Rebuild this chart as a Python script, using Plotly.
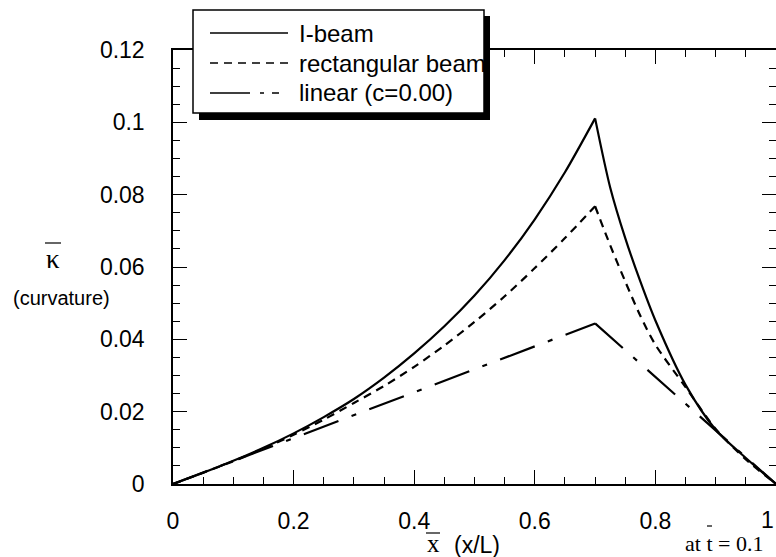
import plotly.graph_objects as go

# ---- data ----
x_ibeam = [0, 0.05, 0.1, 0.15, 0.2, 0.25, 0.3, 0.35, 0.4, 0.45, 0.5, 0.55, 0.6, 0.65, 0.7,
           0.725, 0.75, 0.775, 0.8, 0.85, 0.9, 0.95, 1.0]
y_ibeam = [0, 0.0031, 0.0064, 0.0100, 0.0140, 0.0185, 0.0235, 0.0294, 0.0361, 0.0436, 0.0521,
           0.0619, 0.0732, 0.0862, 0.1011, 0.0820, 0.0680, 0.0560, 0.0452, 0.0274, 0.0150,
           0.0072, 0]

x_rect = [0, 0.05, 0.1, 0.15, 0.2, 0.25, 0.3, 0.35, 0.4, 0.45, 0.5, 0.55, 0.6, 0.65, 0.7,
          0.725, 0.75, 0.775, 0.8, 0.85, 0.9, 0.95, 1.0]
y_rect = [0, 0.0031, 0.0063, 0.0098, 0.0136, 0.0178, 0.0224, 0.0271, 0.0324, 0.0383, 0.0448,
          0.0519, 0.0597, 0.0680, 0.0768, 0.0660, 0.0560, 0.0465, 0.0385, 0.0268, 0.0152,
          0.0068, 0]

x_linear = [0, 0.7, 1.0]
y_linear = [0, 0.0444, 0]

series_names = ["I-beam", "rectangular beam", "linear (c=0.00)"]
x_ticks = [0, 0.2, 0.4, 0.6, 0.8, 1]
y_ticks = [0, 0.02, 0.04, 0.06, 0.08, 0.1, 0.12]

# ---- layout geometry ----
W, H = 776, 557
ML, MR, MT, MB = 173, 0, 50, 73
PW, PH = W - ML - MR, H - MT - MB


def px(xp):
    return (xp - ML) / PW


def py(yp):
    return (H - MB - yp) / PH


SANS = "Liberation Sans, Arial, Helvetica, sans-serif"
SERIF = "Liberation Serif, Times New Roman, serif"

dash_styles = ["solid", "8px,6px", "37px,14px,5px,14px"]
legend_dash = ["solid", "8px,6px", "40px,10px,4px,8px,7px"]
curve_shape = ["spline", "spline", "linear"]

fig = go.Figure()
for xs, ys, name, dash, shp in zip([x_ibeam, x_rect, x_linear], [y_ibeam, y_rect, y_linear],
                                   series_names, dash_styles, curve_shape):
    k = ys.index(max(ys))  # split at the cusp so each branch is smoothed separately
    for seg in (slice(0, k + 1), slice(k, None)):
        fig.add_trace(go.Scatter(x=xs[seg], y=ys[seg], mode="lines", name=name,
                                 showlegend=False,
                                 line=dict(color="black", width=2.2, dash=dash,
                                           shape=shp, smoothing=0.8)))

axis_common = dict(
    showline=True, linecolor="black", linewidth=1.5, mirror="allticks",
    ticks="inside", tickcolor="black", tickwidth=1.3, ticklen=14,
    showgrid=False, zeroline=False,
    tickfont=dict(family=SANS, size=23, color="black"),
)

fig.update_xaxes(range=[0, 1], tickvals=x_ticks[:-1], ticktext=[f"{v:g}" for v in x_ticks[:-1]],
                 minor=dict(dtick=0.05, tick0=0, ticks="inside", ticklen=7,
                            tickcolor="black", tickwidth=1.2),
                 ticklabelstandoff=16, **axis_common)
fig.update_yaxes(range=[0, 0.12], tickvals=y_ticks, ticktext=[f"{v:g}" for v in y_ticks],
                 minor=dict(dtick=0.005, tick0=0, ticks="inside", ticklen=7,
                            tickcolor="black", tickwidth=1.2),
                 ticklabelstandoff=22, **axis_common)

shapes = []
annotations = []

# legend box with shadow (paper coords from pixels)
bx0, by0, bx1, by1 = 193, 10, 484, 113
shapes.append(dict(type="rect", xref="paper", yref="paper", layer="above",
                   x0=px(bx0 + 6), x1=px(bx1 + 6), y0=py(by1 + 7), y1=py(by0 + 6),
                   fillcolor="black", line=dict(width=0)))
shapes.append(dict(type="rect", xref="paper", yref="paper", layer="above",
                   x0=px(bx0), x1=px(bx1), y0=py(by1), y1=py(by0),
                   fillcolor="white", line=dict(color="black", width=1.5)))
rows = [33, 63, 93]
for name, dash, yr in zip(series_names, legend_dash, rows):
    shapes.append(dict(type="line", xref="paper", yref="paper", layer="above",
                       x0=px(210), x1=px(288), y0=py(yr), y1=py(yr),
                       line=dict(color="black", width=1.6, dash=dash)))
    annotations.append(dict(xref="paper", yref="paper", x=px(297), y=py(yr),
                            xanchor="left", yanchor="middle", showarrow=False,
                            text=name, font=dict(family=SANS, size=24, color="black")))

# y-axis title: kappa with overbar and "(curvature)"
annotations.append(dict(xref="paper", yref="paper", x=px(53), y=py(259), xanchor="center",
                        yanchor="middle", showarrow=False, text="κ",
                        font=dict(family=SERIF, size=27, color="black")))
shapes.append(dict(type="line", xref="paper", yref="paper", x0=px(45), x1=px(61),
                   y0=py(243), y1=py(243), line=dict(color="black", width=1.2)))
annotations.append(dict(xref="paper", yref="paper", x=px(61), y=py(298), xanchor="center",
                        yanchor="middle", showarrow=False, text="(curvature)",
                        font=dict(family=SANS, size=20, color="black")))

# x-axis title: x with overbar and "(x/L)"
annotations.append(dict(xref="paper", yref="paper", x=px(433), y=py(543), xanchor="center",
                        yanchor="middle", showarrow=False, text="x",
                        font=dict(family=SERIF, size=25, color="black")))
shapes.append(dict(type="line", xref="paper", yref="paper", x0=px(426), x1=px(440),
                   y0=py(533), y1=py(533), line=dict(color="black", width=1.2)))
annotations.append(dict(xref="paper", yref="paper", x=px(477), y=py(545), xanchor="center",
                        yanchor="middle", showarrow=False, text="(x/L)",
                        font=dict(family=SANS, size=23, color="black")))

# tick label "1" at the right edge (kept fully inside the page)
annotations.append(dict(xref="paper", yref="paper", x=1.0, y=py(520), xanchor="right",
                        yanchor="middle", showarrow=False, text=f"{x_ticks[-1]:g}",
                        font=dict(family=SANS, size=23, color="black")))

# "at t = 0.1" note
annotations.append(dict(xref="paper", yref="paper", x=px(724), y=py(543), xanchor="center",
                        yanchor="middle", showarrow=False, text="at t = 0.1",
                        font=dict(family=SERIF, size=22, color="black")))
shapes.append(dict(type="line", xref="paper", yref="paper", x0=px(707), x1=px(712),
                   y0=py(526), y1=py(526), line=dict(color="black", width=1.2)))

fig.update_layout(
    width=W, height=H,
    margin=dict(l=ML, r=MR, t=MT, b=MB, autoexpand=False),
    paper_bgcolor="white", plot_bgcolor="white",
    showlegend=False,
    shapes=shapes, annotations=annotations,
)

fig.write_html("out.html")
